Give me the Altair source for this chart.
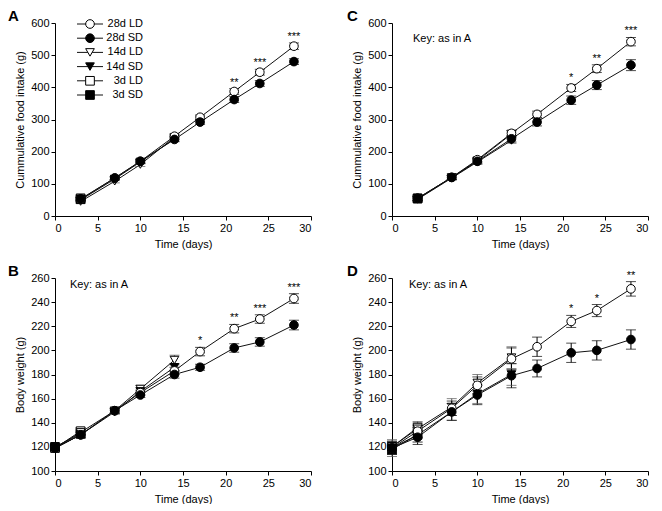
import altair as alt
import pandas as pd

SERIES = ["28d LD", "28d SD", "14d LD", "14d SD", "3d LD", "3d SD"]
SHAPES = ["circle", "circle", "triangle-down", "triangle-down", "square", "square"]
FILLS = ["white", "black", "white", "black", "white", "black"]
DRAW_ORDER = ["3d LD", "3d SD", "14d LD", "14d SD", "28d LD", "28d SD"]

# ---- Food intake days
FOOD_DAYS_28 = [3, 7, 10, 14, 17, 21, 24, 28]
FOOD_DAYS_14 = [3, 7, 10, 14]
FOOD_DAYS_3 = [3]
# ---- Body weight days
BW_DAYS_28 = [0, 3, 7, 10, 14, 17, 21, 24, 28]
BW_DAYS_14 = [0, 3, 7, 10, 14]
BW_DAYS_3 = [0, 3]

# Panel A: cumulative food intake (g)
A_28LD = [52, 118, 170, 248, 307, 387, 447, 528]
A_28LD_ERR = [5, 5, 6, 6, 7, 9, 9, 10]
A_28SD = [53, 118, 170, 238, 292, 362, 412, 480]
A_28SD_ERR = [5, 5, 6, 7, 7, 9, 9, 9]
A_14LD = [45, 108, 160, 245]
A_14LD_ERR = [5, 5, 6, 7]
A_14SD = [50, 115, 168, 240]
A_14SD_ERR = [5, 5, 6, 7]
A_3LD = [55]
A_3LD_ERR = [5]
A_3SD = [52]
A_3SD_ERR = [5]
A_STAR_DAYS = [21, 24, 28]
A_STARS = ["**", "***", "***"]

# Panel C: cumulative food intake (g)
C_28LD = [55, 120, 175, 257, 316, 398, 458, 542]
C_28LD_ERR = [6, 6, 7, 9, 10, 11, 12, 13]
C_28SD = [55, 120, 170, 240, 292, 360, 407, 469]
C_28SD_ERR = [6, 7, 8, 10, 12, 13, 14, 17]
C_14LD = [53, 120, 172, 255]
C_14LD_ERR = [6, 6, 7, 9]
C_14SD = [52, 118, 168, 235]
C_14SD_ERR = [6, 6, 7, 9]
C_3LD = [55]
C_3LD_ERR = [6]
C_3SD = [54]
C_3SD_ERR = [6]
C_STAR_DAYS = [21, 24, 28]
C_STARS = ["*", "**", "***"]

# Panel B: body weight (g)
B_28LD = [119, 130, 150, 165, 183, 199, 218, 226, 243]
B_28LD_ERR = [2, 3, 2, 2, 3, 3.5, 3.5, 3.5, 4]
B_28SD = [119, 130, 150, 163, 180, 186, 202, 207, 221]
B_28SD_ERR = [2, 2, 2, 2, 3, 2.5, 3.5, 3.5, 4]
B_14LD = [119, 132, 150, 168, 192]
B_14LD_ERR = [2, 3, 2, 3, 4]
B_14SD = [119, 130, 149, 166, 186]
B_14SD_ERR = [2, 2, 2, 3, 3]
B_3LD = [119, 133]
B_3LD_ERR = [2, 3]
B_3SD = [120, 131]
B_3SD_ERR = [2, 3]
B_STAR_DAYS = [17, 21, 24, 28]
B_STARS = ["*", "**", "***", "***"]

# Panel D: body weight (g)
D_28LD = [119, 133, 152, 171, 193, 203, 224, 233, 251]
D_28LD_ERR = [5, 5, 6, 7, 9, 8, 5, 5, 6]
D_28SD = [119, 128, 149, 163, 179, 185, 198, 200, 209]
D_28SD_ERR = [5, 6, 7, 8, 10, 7, 8, 8, 8]
D_14LD = [120, 135, 153, 173, 194]
D_14LD_ERR = [5, 5, 7, 7, 9]
D_14SD = [119, 130, 149, 164, 180]
D_14SD_ERR = [5, 6, 7, 8, 9]
D_3LD = [120, 136]
D_3LD_ERR = [6, 5]
D_3SD = [118, 130]
D_3SD_ERR = [6, 6]
D_STAR_DAYS = [21, 24, 28]
D_STARS = ["*", "*", "**"]

FONT = "Liberation Sans"
PW = 256
PH = 193


def rows(days, vals, errs, name):
    return [dict(day=d, value=v, lo=v - e, hi=v + e, series=name)
            for d, v, e in zip(days, vals, errs)]


def build_df(d28, d14, d3, s):
    r = []
    r += rows(d3, s["3LD"], s["3LD_ERR"], "3d LD")
    r += rows(d3, s["3SD"], s["3SD_ERR"], "3d SD")
    r += rows(d14, s["14LD"], s["14LD_ERR"], "14d LD")
    r += rows(d14, s["14SD"], s["14SD_ERR"], "14d SD")
    r += rows(d28, s["28LD"], s["28LD_ERR"], "28d LD")
    r += rows(d28, s["28SD"], s["28SD_ERR"], "28d SD")
    return pd.DataFrame(r)


def stars_df(df, days, stars):
    ld = df[df.series == "28d LD"].set_index("day")
    return pd.DataFrame({"day": days, "hi": [ld.loc[d, "hi"] for d in days], "star": stars})


SHAPE_ENC = alt.Shape("series:N", scale=alt.Scale(domain=SERIES, range=SHAPES), legend=None)
FILL_ENC = alt.Fill("series:N", scale=alt.Scale(domain=SERIES, range=FILLS), legend=None)
STROKE_ENC = alt.Stroke("series:N", scale=alt.Scale(domain=SERIES, range=["black"] * 6), legend=None)


def legend_layer():
    d = pd.DataFrame({"series": SERIES})
    ly = alt.Y("series:N", sort=SERIES,
               scale=alt.Scale(type="point", domain=SERIES, range=[1, 72], padding=0),
               axis=None)
    line = alt.Chart(d).mark_rule(color="#111", strokeWidth=1).encode(
        x=alt.value(22), x2=alt.value(48), y=ly)
    pt = alt.Chart(d).mark_point(size=75, strokeWidth=1, opacity=1, fillOpacity=1).encode(
        x=alt.value(35), y=ly, shape=SHAPE_ENC, fill=FILL_ENC, stroke=STROKE_ENC)
    txt = alt.Chart(d).mark_text(align="right", baseline="middle", fontSize=11, font=FONT,
                                 color="black").encode(
        x=alt.value(88), y=ly, text="series:N")
    return alt.layer(line, pt, txt)


def panel(df, sdf, ydom, ystep, ytitle, letter, letter_x, key_xy, legend):
    xscale = alt.Scale(domain=[0, 30], nice=False)
    xaxis = alt.Axis(values=list(range(0, 31, 5)), title="Time (days)", labelOverlap=False)
    yscale = alt.Scale(domain=ydom, nice=False, zero=False)
    yaxis = alt.Axis(values=list(range(ydom[0], ydom[1] + 1, ystep)), title=ytitle,
                     labelOverlap=False)

    def X(f):
        return alt.X(f, scale=xscale, axis=xaxis)

    def Y(f):
        return alt.Y(f, scale=yscale, axis=yaxis)

    base = alt.Chart(df)
    lines = base.mark_line(color="#111", strokeWidth=1).encode(
        x=X("day:Q"), y=Y("value:Q"), detail="series:N", order="day:Q")
    ecol = alt.condition("indexof(datum.series, '28d') == 0", alt.value("black"), alt.value("#555"))
    rule = base.mark_rule(strokeWidth=1).encode(
        x=X("day:Q"), y=Y("lo:Q"), y2="hi:Q", color=ecol)
    cap_lo = base.mark_tick(orient="horizontal", size=10, thickness=1).encode(
        x=X("day:Q"), y=Y("lo:Q"), color=ecol)
    cap_hi = base.mark_tick(orient="horizontal", size=10, thickness=1).encode(
        x=X("day:Q"), y=Y("hi:Q"), color=ecol)
    pts = base.mark_point(strokeWidth=1, size=75, opacity=1, fillOpacity=1).encode(
        x=X("day:Q"), y=Y("value:Q"),
        shape=SHAPE_ENC, fill=FILL_ENC, stroke=STROKE_ENC,
        order=alt.Order("ord:Q"))
    stars = alt.Chart(sdf).mark_text(baseline="alphabetic", dy=-3, fontSize=11, font=FONT,
                                     color="black").encode(
        x=X("day:Q"), y=Y("hi:Q"), text="star:N")
    lab = alt.Chart(pd.DataFrame({"t": [letter]})).mark_text(
        align="left", baseline="alphabetic", fontSize=15, fontWeight="bold", font=FONT,
        color="black").encode(x=alt.value(letter_x), y=alt.value(-2), text="t:N")
    layers = [lines, rule, cap_lo, cap_hi, pts, stars, lab]
    if key_xy is not None:
        key = alt.Chart(pd.DataFrame({"t": ["Key: as in A"]})).mark_text(
            align="left", baseline="middle", fontSize=11, font=FONT, color="black").encode(
            x=alt.value(key_xy[0]), y=alt.value(key_xy[1]), text="t:N")
        layers.append(key)
    main = alt.layer(*layers)
    if legend:
        main = alt.layer(main, legend_layer()).resolve_scale(y="independent")
    return main.properties(width=PW, height=PH)


def mk(s28ld, e28ld, s28sd, e28sd, s14ld, e14ld, s14sd, e14sd, s3ld, e3ld, s3sd, e3sd):
    return {"28LD": s28ld, "28LD_ERR": e28ld, "28SD": s28sd, "28SD_ERR": e28sd,
            "14LD": s14ld, "14LD_ERR": e14ld, "14SD": s14sd, "14SD_ERR": e14sd,
            "3LD": s3ld, "3LD_ERR": e3ld, "3SD": s3sd, "3SD_ERR": e3sd}


dfA = build_df(FOOD_DAYS_28, FOOD_DAYS_14, FOOD_DAYS_3,
               mk(A_28LD, A_28LD_ERR, A_28SD, A_28SD_ERR, A_14LD, A_14LD_ERR, A_14SD, A_14SD_ERR,
                  A_3LD, A_3LD_ERR, A_3SD, A_3SD_ERR))
dfC = build_df(FOOD_DAYS_28, FOOD_DAYS_14, FOOD_DAYS_3,
               mk(C_28LD, C_28LD_ERR, C_28SD, C_28SD_ERR, C_14LD, C_14LD_ERR, C_14SD, C_14SD_ERR,
                  C_3LD, C_3LD_ERR, C_3SD, C_3SD_ERR))
dfB = build_df(BW_DAYS_28, BW_DAYS_14, BW_DAYS_3,
               mk(B_28LD, B_28LD_ERR, B_28SD, B_28SD_ERR, B_14LD, B_14LD_ERR, B_14SD, B_14SD_ERR,
                  B_3LD, B_3LD_ERR, B_3SD, B_3SD_ERR))
dfD = build_df(BW_DAYS_28, BW_DAYS_14, BW_DAYS_3,
               mk(D_28LD, D_28LD_ERR, D_28SD, D_28SD_ERR, D_14LD, D_14LD_ERR, D_14SD, D_14SD_ERR,
                  D_3LD, D_3LD_ERR, D_3SD, D_3SD_ERR))
for _d in (dfA, dfB, dfC, dfD):
    _d["ord"] = [DRAW_ORDER.index(s) for s in _d.series]

pA = panel(dfA, stars_df(dfA, A_STAR_DAYS, A_STARS), [0, 600], 100,
           "Cummulative food intake (g)", "A", -47, None, True)
pC = panel(dfC, stars_df(dfC, C_STAR_DAYS, C_STARS), [0, 600], 100,
           "Cummulative food intake (g)", "C", -45, (21, 16), False)
pB = panel(dfB, stars_df(dfB, B_STAR_DAYS, B_STARS), [100, 260], 20,
           "Body weight (g)", "B", -47, (15, 7), False)
pD = panel(dfD, stars_df(dfD, D_STAR_DAYS, D_STARS), [100, 260], 20,
           "Body weight (g)", "D", -45, (17, 7), False)

row1 = alt.hconcat(pA, pC, spacing=35)
row2 = alt.hconcat(pB, pD, spacing=35)
chart = alt.vconcat(row1, row2, spacing=15).properties(
    padding={"top": 1, "left": 0, "right": 0, "bottom": 0}
).configure_view(stroke=None).configure_axis(
    grid=False, domainColor="black", tickColor="black", labelColor="black", titleColor="black",
    labelFont=FONT, titleFont=FONT, labelFontSize=11, titleFontSize=11,
    titleFontWeight="normal", tickSize=4, domainWidth=1, tickWidth=1,
    labelPadding=2, titlePadding=5
)

chart.save("out.html", embed_options={"renderer": "svg", "actions": False})
